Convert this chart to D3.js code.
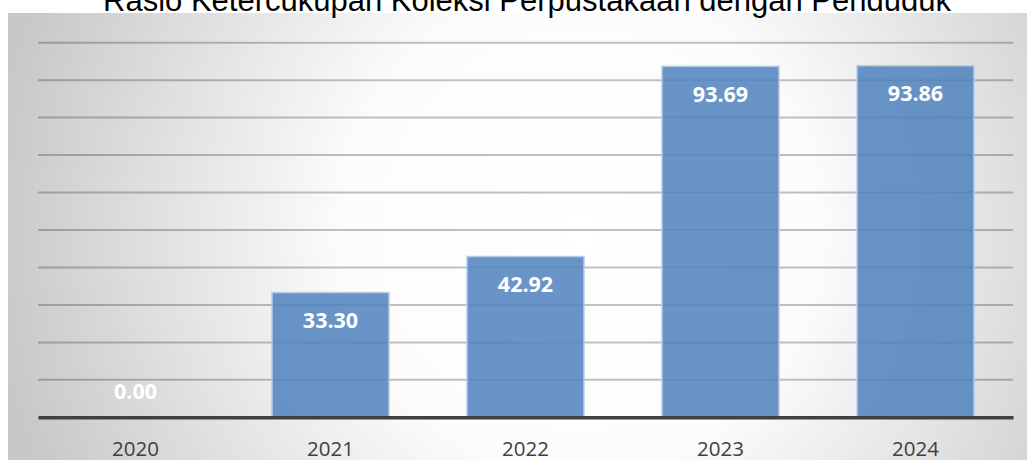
<!DOCTYPE html>
<html>
<head>
<meta charset="utf-8">
<script src="https://cdn.jsdelivr.net/npm/d3@7"></script>
<style>
  html, body { margin: 0; padding: 0; background: #fff; }
  svg { display: block; }
</style>
</head>
<body>
<svg id="chart" width="1027" height="469"></svg>
<script>
// Data
let years = ['2020', '2021', '2022', '2023', '2024'];
let ratios = [0.00, 33.30, 42.92, 93.69, 93.86];
let y_ticks = [0, 10, 20, 30, 40, 50, 60, 70, 80, 90, 100];
let chart_title = 'Rasio Ketercukupan Koleksi Perpustakaan dengan Penduduk';

let WIDTH = 1027;
let HEIGHT = 469;
let PLOT_LEFT = 38, PLOT_RIGHT = 1013, PLOT_TOP = 42.7, PLOT_BOTTOM = 417.3;

let svg = d3.select('#chart');
let defs = svg.append('defs');

// Radial gray background like the spreadsheet style
let bg = defs.append('radialGradient')
    .attr('id', 'bg_grad')
    .attr('gradientUnits', 'userSpaceOnUse')
    .attr('cx', 580).attr('cy', 230).attr('r', 590);
bg.append('stop').attr('offset', 0).attr('stop-color', '#ffffff');
bg.append('stop').attr('offset', 0.4).attr('stop-color', '#fcfcfc');
bg.append('stop').attr('offset', 1).attr('stop-color', '#c8c8c8');

svg.append('rect')
    .attr('x', 8).attr('y', 13)
    .attr('width', WIDTH - 8).attr('height', 460 - 13)
    .attr('fill', 'url(#bg_grad)');

// Title (clipped by the top of the window, as in the picture)
svg.append('text')
    .attr('x', 527).attr('y', 11)
    .attr('text-anchor', 'middle')
    .style('font-family', '"Liberation Sans", Arial, sans-serif')
    .style('font-size', '31px')
    .attr('fill', '#000')
    .text(chart_title);

// Scales
let xScale = d3.scaleBand()
    .domain(years)
    .range([PLOT_LEFT, PLOT_RIGHT])
    .paddingInner(0.4)
    .paddingOuter(0.2);

let yScale = d3.scaleLinear()
    .domain([0, 100])
    .range([PLOT_BOTTOM, PLOT_TOP]);

// Gridlines
svg.append('g')
    .selectAll('line')
    .data(y_ticks.filter(d => d > 0))
    .join('line')
    .attr('x1', PLOT_LEFT).attr('x2', PLOT_RIGHT)
    .attr('y1', d => yScale(d)).attr('y2', d => yScale(d))
    .attr('stroke', '#000')
    .attr('stroke-opacity', 0.24)
    .attr('stroke-width', 2);

// Bars
let rows = years.map((y, i) => ({ year: y, value: ratios[i] }));

svg.append('g')
    .selectAll('rect')
    .data(rows)
    .join('rect')
    .attr('x', d => xScale(d.year))
    .attr('y', d => yScale(d.value))
    .attr('width', xScale.bandwidth())
    .attr('height', d => yScale(0) - yScale(d.value))
    .attr('fill', '#4f81bd')
    .attr('fill-opacity', 0.85)
    .attr('stroke', '#b4cce8')
    .attr('stroke-width', 1.5);

// X axis line and labels
let x_axis = svg.append('g')
    .attr('transform', `translate(0,${yScale(0)})`)
    .call(d3.axisBottom(xScale).tickSize(0).tickPadding(0));
x_axis.select('.domain')
    .attr('stroke', '#404040')
    .attr('stroke-width', 3.5);
x_axis.selectAll('text')
    .attr('dy', 0)
    .attr('y', 39)
    .attr('fill', '#404040')
    .style('font-family', '"Open Sans", sans-serif')
    .style('font-size', '20.5px');

// Value labels inside the bar tops (above the axis when the bar is empty)
svg.append('g')
    .selectAll('text')
    .data(rows)
    .join('text')
    .attr('x', d => xScale(d.year) + xScale.bandwidth() / 2)
    .attr('y', d => (yScale(0) - yScale(d.value) < 40) ? yScale(0) - 18 : yScale(d.value) + 35.5)
    .attr('text-anchor', 'middle')
    .attr('fill', '#ffffff')
    .style('font-family', '"Open Sans", sans-serif')
    .style('font-weight', 700)
    .style('font-size', '21.5px')
    .text(d => d.value.toFixed(2));
</script>
</body>
</html>
